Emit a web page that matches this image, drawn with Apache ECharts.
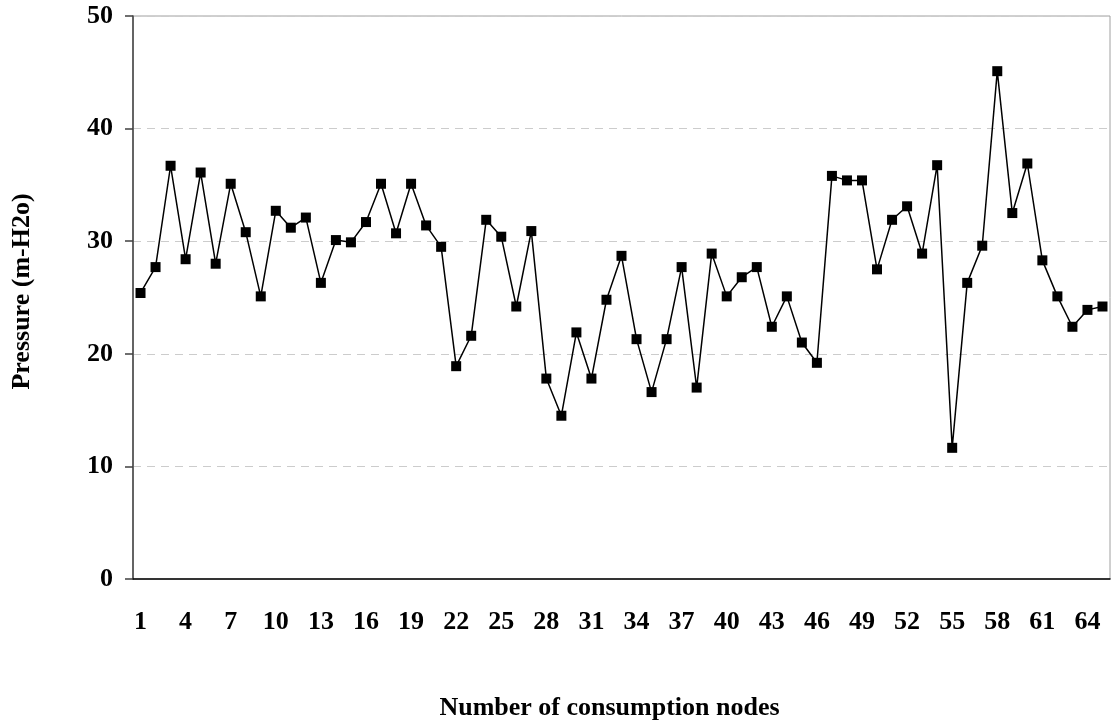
<!DOCTYPE html>
<html>
<head>
<meta charset="utf-8">
<script src="https://cdn.jsdelivr.net/npm/echarts@6/dist/echarts.min.js"></script>
<style>
  html, body { margin: 0; padding: 0; background: #fff; }
  #chart { width: 1114px; height: 726px; }
</style>
</head>
<body>
<div id="chart"></div>
<script>
// node numbers 1..65
const nodes = ['1', '2', '3', '4', '5', '6', '7', '8', '9', '10',
  '11', '12', '13', '14', '15', '16', '17', '18', '19', '20',
  '21', '22', '23', '24', '25', '26', '27', '28', '29', '30',
  '31', '32', '33', '34', '35', '36', '37', '38', '39', '40',
  '41', '42', '43', '44', '45', '46', '47', '48', '49', '50',
  '51', '52', '53', '54', '55', '56', '57', '58', '59', '60',
  '61', '62', '63', '64', '65']

// pressure (m-H2o)
const pressure = [25.4, 27.7, 36.7, 28.4, 36.1, 28.0, 35.1, 30.8, 25.1, 32.7,
  31.2, 32.1, 26.3, 30.1, 29.9, 31.7, 35.1, 30.7, 35.1, 31.4,
  29.5, 18.9, 21.6, 31.9, 30.4, 24.2, 30.9, 17.8, 14.5, 21.9,
  17.8, 24.8, 28.7, 21.3, 16.6, 21.3, 27.7, 17.0, 28.9, 25.1,
  26.8, 27.7, 22.4, 25.1, 21.0, 19.2, 35.8, 35.4, 35.4, 27.5,
  31.9, 33.1, 28.9, 36.75, 11.65, 26.3, 29.6, 45.1, 32.5, 36.9,
  28.3, 25.1, 22.4, 23.9, 24.2]

const font = '"Liberation Serif", "Times New Roman", serif'

const chart = echarts.init(document.getElementById('chart'))
chart.setOption({
  animation: false,
  backgroundColor: '#fff',
  grid: {
    left: 133,
    right: 4,
    top: 16,
    bottom: 145,
    show: true,
    borderColor: '#a0a0a0',
    borderWidth: 1
  },
  xAxis: {
    type: 'category',
    data: nodes,
    boundaryGap: true,
    name: 'Number of consumption nodes',
    nameLocation: 'middle',
    nameGap: 116,
    nameTextStyle: {
      fontFamily: font, fontWeight: 'bold', fontSize: 26, color: '#000',
      padding: [0, 24, 0, 0]
    },
    axisLine: { lineStyle: { color: '#000', width: 1.5 } },
    axisTick: { interval: 2, length: 8, lineStyle: { color: '#000', width: 1.5 } },
    axisLabel: {
      interval: 2,
      margin: 30,
      fontFamily: font,
      fontWeight: 'bold',
      fontSize: 26,
      color: '#000'
    },
    splitLine: { show: false }
  },
  yAxis: {
    type: 'value',
    min: 0,
    max: 50,
    interval: 10,
    name: 'Pressure (m-H2o)',
    nameLocation: 'middle',
    nameGap: 98,
    nameTextStyle: {
      fontFamily: font, fontWeight: 'bold', fontSize: 26, color: '#000',
      padding: [0, 0, 0, 12]
    },
    axisLine: { show: true, lineStyle: { color: '#404040', width: 1.5 } },
    axisTick: { show: true, length: 8, lineStyle: { color: '#404040', width: 1.5 } },
    axisLabel: {
      margin: 20,
      fontFamily: font,
      fontWeight: 'bold',
      fontSize: 26,
      color: '#000'
    },
    splitLine: { lineStyle: { color: '#cccccc', type: [8, 6], width: 1 } }
  },
  series: [{
    name: 'Pressure',
    type: 'line',
    data: pressure,
    symbol: 'rect',
    symbolSize: 10,
    itemStyle: { color: '#000' },
    lineStyle: { color: '#000', width: 1.5 }
  }]
})
</script>
</body>
</html>
